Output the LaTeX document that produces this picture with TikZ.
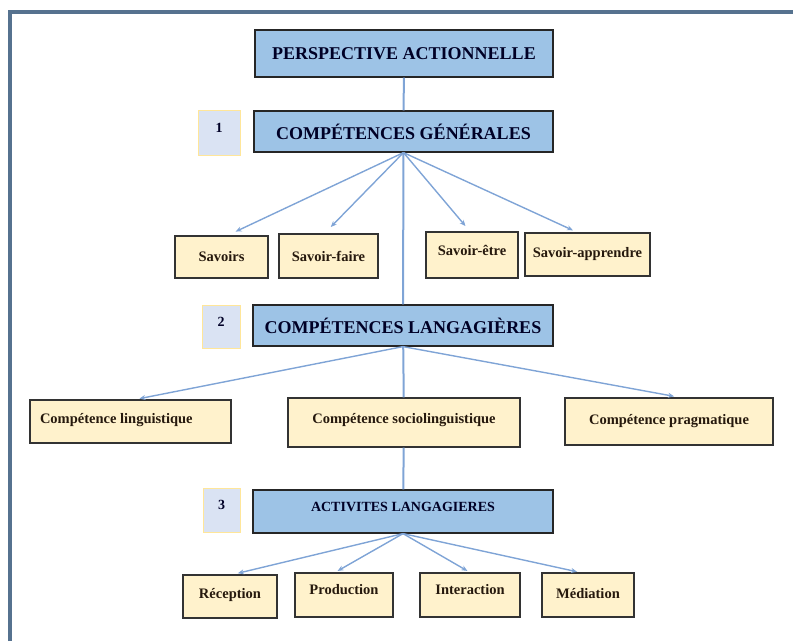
\documentclass[tikz,border=0pt]{standalone}
\usepackage{fontspec}
\setmainfont{Liberation Serif}
\usetikzlibrary{arrows.meta}

\definecolor{headblue}{HTML}{9DC3E6}
\definecolor{leafcream}{HTML}{FFF2CC}
\definecolor{numlilac}{HTML}{DAE3F3}
\definecolor{numgold}{HTML}{FFE699}
\definecolor{linkblue}{HTML}{7FA4D6}
\definecolor{framegrey}{HTML}{56728F}

\begin{document}
\begin{tikzpicture}[
    x=1pt, y=-1pt,
    head/.style={draw=black!85, fill=headblue, line width=1.2pt,
                 inner sep=0pt, text=black!85!blue,
                 font=\fontsize{18}{21}\selectfont\bfseries},
    leaf/.style={draw=black!80, fill=leafcream, line width=1.2pt,
                 inner sep=0pt, text=black!80!brown,
                 font=\fontsize{14.5}{17}\selectfont\bfseries},
    num/.style={draw=numgold, fill=numlilac, line width=1pt,
                inner sep=0pt, text=black!85!blue, text depth=10pt,
                font=\fontsize{14}{17}\selectfont\bfseries},
    flow/.style={-{Stealth[length=6pt,width=5pt]}, linkblue, line width=1.4pt},
    link/.style={linkblue, line width=2pt},
]

    \useasboundingbox (0,0) rectangle (793,641);
    \draw[framegrey, line width=3.5pt] (10,641) -- (10,12) -- (793,12);

    \node[head, minimum width=298pt, minimum height=47pt] (persp) at (404,53.5) {PERSPECTIVE ACTIONNELLE};
    \node[head, minimum width=299pt, minimum height=41pt] (gen) at (403.5,131.5) {COMPÉTENCES GÉNÉRALES};
    \node[num, minimum width=42pt, minimum height=45pt] (one) at (219,132.5) {1};

    \node[leaf, minimum width=93pt, minimum height=42pt] (savoirs) at (221.5,257) {Savoirs};
    \node[leaf, minimum width=99pt, minimum height=44pt] (faire) at (328.5,256) {Savoir-faire};
    \node[leaf, minimum width=92pt, minimum height=46pt, text depth=10pt] (etre) at (472,255) {Savoir-être};
    \node[leaf, minimum width=125pt, minimum height=43pt] (apprendre) at (587.5,254.5) {Savoir-apprendre};

    \node[head, minimum width=300pt, minimum height=41pt] (lang) at (403,325.5) {COMPÉTENCES LANGAGIÈRES};
    \node[num, minimum width=38pt, minimum height=43pt] (two) at (221,326.5) {2};

    \node[leaf, minimum width=201pt, minimum height=43pt, text width=181pt,
          align=flush left, text depth=7pt] (ling) at (130.5,421.5) {Compétence linguistique};
    \node[leaf, minimum width=232pt, minimum height=49pt, text depth=9pt] (socio) at (404,422.5) {Compétence sociolinguistique};
    \node[leaf, minimum width=208pt, minimum height=47pt] (prag) at (669,421.5) {Compétence pragmatique};

    \node[head, minimum width=300pt, minimum height=43pt, text depth=9pt,
          font=\fontsize{14}{17}\selectfont\bfseries] (act) at (403,511.5) {ACTIVITES LANGAGIERES};
    \node[num, minimum width=37pt, minimum height=44pt] (three) at (221.5,510) {3};

    \node[leaf, minimum width=94pt, minimum height=43pt, text depth=6pt] (recep) at (230,596.5) {Réception};
    \node[leaf, minimum width=98pt, minimum height=44pt, text depth=12pt] (prod) at (344,595) {Production};
    \node[leaf, minimum width=100pt, minimum height=44pt, text depth=12pt] (inter) at (470,595) {Interaction};
    \node[leaf, minimum width=92pt, minimum height=44pt, text depth=4pt] (med) at (588,595) {Médiation};

    \draw[link] (persp) -- (gen);
    \draw[link] (gen) -- (lang);
    \draw[link] (lang) -- (socio);
    \draw[link] (socio) -- (act);

    \draw[flow, shorten >=9pt] (gen.south) -- ([xshift=6pt]savoirs.north);
    \draw[flow, shorten >=9pt] (gen.south) -- ([xshift=-4pt]faire.north);
    \draw[flow, shorten >=7pt] (gen.south) -- ([xshift=-2pt]etre.north);
    \draw[flow, shorten >=5pt] (gen.south) -- ([xshift=-10pt]apprendre.north);

    \draw[flow, shorten >=4pt] (lang.south) -- ([xshift=5pt]ling.north);
    \draw[flow, shorten >=6pt] (lang.south) -- ([xshift=11pt]prag.north);

    \draw[flow, shorten >=5pt] (act.south) -- ([xshift=3pt]recep.north);
    \draw[flow, shorten >=3pt] (act.south) -- ([xshift=-9pt]prod.north);
    \draw[flow, shorten >=3pt] (act.south) -- (inter.north);
    \draw[flow, shorten >=3pt] (act.south) -- ([xshift=-8pt]med.north);

\end{tikzpicture}
\end{document}
